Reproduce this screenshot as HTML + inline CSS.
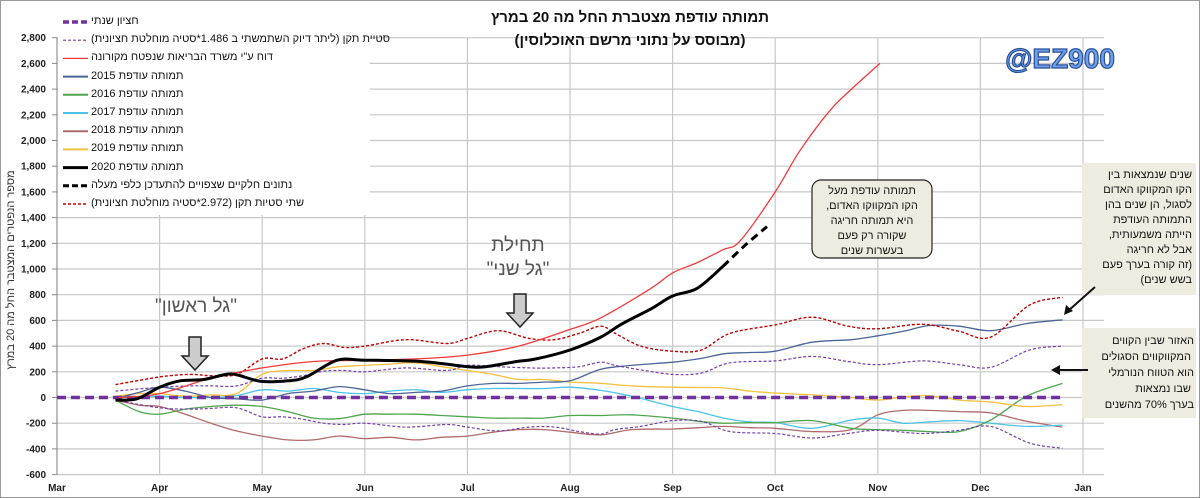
<!DOCTYPE html>
<html><head><meta charset="utf-8"><style>
html,body{margin:0;padding:0;background:#fff}
#wrap{position:relative;width:1200px;height:498px;overflow:hidden}
svg{display:block;position:absolute;left:0;top:0}
text,.t{font-family:"Liberation Sans","Noto Sans CJK SC",sans-serif}
.t{position:absolute;direction:rtl;white-space:nowrap;color:#111}
.box{position:absolute;direction:rtl;font-family:"Liberation Sans","Noto Sans CJK SC",sans-serif;font-size:11px;line-height:15px;color:#111;box-sizing:border-box}
.lg{position:absolute;left:91px;direction:rtl;white-space:nowrap;font-size:11px;font-family:"Liberation Sans","Noto Sans CJK SC",sans-serif;color:#111;line-height:13px}
</style></head><body>
<div id="wrap">
<svg id="chart" width="1200" height="498" viewBox="0 0 1200 498" xmlns="http://www.w3.org/2000/svg">
<rect x="0.5" y="0.5" width="1199" height="497" fill="#fff" stroke="#999"/>
<g id="grid"></g>
<g id="yticks"></g>
<g id="xticks"></g>
<g id="series"></g>
<text x="14" y="270" transform="rotate(-90 14 270)" text-anchor="middle" font-size="11" fill="#333" direction="rtl">מספר הנפטרים המצטבר החל מה 20 במרץ</text>
<text x="630" y="22" text-anchor="middle" font-size="15" font-weight="bold" fill="#111" direction="rtl">תמותה עודפת מצטברת החל מה 20 במרץ</text>
<text x="630" y="45" text-anchor="middle" font-size="15" font-weight="bold" fill="#111" direction="rtl">(מבוסס על נתוני מרשם האוכלוסין)</text>
<text x="1060" y="68" text-anchor="middle" font-size="28" font-weight="bold" fill="#6fa0e8" stroke="#2a4f9a" stroke-width="1.2">@EZ900</text>
<g id="legend">
<rect x="58" y="10" width="312" height="205" fill="#fff"/>
</g>
<path d="M189 337 H201 V356 H208 L195 370 L182 356 H189 Z" fill="#ccc" stroke="#222" stroke-width="1.5"/>
<path d="M514 294 H526 V313 H533 L520 327 L507 313 H514 Z" fill="#ccc" stroke="#222" stroke-width="1.5"/>
<rect x="812" y="180" width="120" height="78" rx="9" fill="#eeece1" stroke="#222" stroke-width="1.2"/>
<rect x="1082" y="163" width="114" height="132" fill="#eeece1"/>
<line x1="1095" y1="287" x2="1068" y2="311" stroke="#111" stroke-width="2"/>
<path d="M1064 315 L1066 305 L1073 311 Z" fill="#111"/>
<rect x="1082" y="328" width="114" height="90" fill="#eeece1"/>
<line x1="1088" y1="370" x2="1058" y2="370" stroke="#111" stroke-width="2"/>
<path d="M1051 370 L1060 365 L1060 375 Z" fill="#111"/>
</svg>
<div class="t" style="left:140px;top:296px;width:112px;text-align:center;font-size:19px;color:#555">"גל ראשון"</div>
<div class="t" style="left:460px;top:234px;width:116px;text-align:center;font-size:19px;color:#555;line-height:24px">תחילת<br>"גל שני"</div>
<div class="box" style="left:812px;top:184px;width:120px;text-align:center">תמותה עודפת מעל<br>הקו המקווקו האדום,<br>היא תמותה חריגה<br>שקורה רק פעם<br>בעשרות שנים</div>
<div class="box" style="left:1082px;top:168px;width:110px;text-align:right">שנים שנמצאות בין<br>הקו המקווקו האדום<br>לסגול, הן שנים בהן<br>התמותה העודפת<br>הייתה משמעותית,<br>אבל לא חריגה<br>(זה קורה בערך פעם<br>בשש שנים)</div>
<div class="box" style="left:1082px;top:333px;width:112px;text-align:right;line-height:16px">האזור שבין הקווים<br>&nbsp;המקווקווים הסגולים<br>הוא הטווח הנורמלי<br>&nbsp;שבו נמצאות<br>בערך 70% מהשנים</div>
<div id="legendText"></div>
</div>
<script>
// ---- data (x = month number, 3 = Mar 1) ----
const yTicks = [2800,2600,2400,2200,2000,1800,1600,1400,1200,1000,800,600,400,200,0,-200,-400,-600];
const yTickLabels = ["2,800","2,600","2,400","2,200","2,000","1,800","1,600","1,400","1,200","1,000","800","600","400","200","0","-200","-400","-600"];
const monthLabels = ["Mar","Apr","May","Jun","Jul","Aug","Sep","Oct","Nov","Dec","Jan"];
const monthPos = [3,4,5,6,7,8,9,10,11,12,13];

const mBlack = [3.57,3.78,4.0,4.2,4.43,4.65,4.76,4.99,5.25,5.43,5.73,5.99,6.55,7.0,7.18,7.48,7.67,8.0,8.3,8.5,8.79,9.0,9.24,9.49];
const vBlack = [-20,-10,80,130,140,180,175,125,130,160,290,290,280,240,240,280,300,370,470,570,690,790,850,1020];
const mBlackDash = [9.49,9.7,9.92];
const vBlackDash = [1020,1180,1330];
const mRed = [3.6,4.0,4.5,5.0,5.5,6.0,6.5,7.0,7.5,8.0,8.3,8.79,9.0,9.24,9.49,9.66,10.0,10.24,10.53,10.73,11.02];
const vRed = [0,30,150,230,280,290,300,330,400,530,620,850,970,1050,1150,1220,1600,1920,2230,2390,2600];
const mStd = [3.57,4.0,4.3,4.5,4.75,5.0,5.2,5.4,5.6,5.8,6.0,6.4,6.8,7.0,7.3,7.6,7.85,8.09,8.3,8.44,8.69,9.0,9.28,9.56,10.0,10.36,10.71,11.0,11.44,11.79,12.1,12.48,12.8];
const vRedDash = [100,160,180,170,180,300,300,380,420,390,400,450,420,460,520,460,450,500,555,500,400,360,370,500,565,625,555,535,570,515,470,720,780];
const vPurpleHi = [50,80,90,90,90,150,150,170,205,210,200,230,210,250,240,230,230,240,275,250,215,180,190,270,285,320,280,255,285,255,235,370,400];
const vPurpleLo = [-20,-80,-90,-85,-80,-150,-150,-170,-200,-210,-200,-230,-210,-230,-260,-230,-230,-265,-285,-250,-225,-180,-185,-265,-280,-315,-280,-255,-280,-255,-225,-355,-395];
const mYear = [3.57,3.8,4.0,4.25,4.5,4.75,5.0,5.25,5.5,5.75,6.0,6.25,6.5,6.75,7.0,7.25,7.5,7.75,8.0,8.3,8.6,9.0,9.25,9.5,9.75,10.0,10.36,10.74,11.0,11.25,11.5,11.79,12.1,12.45,12.8];
const v2015 = [-10,40,80,50,0,-10,-20,30,50,85,60,30,40,50,90,110,110,120,130,220,250,275,300,340,350,360,430,450,480,515,560,555,520,575,605];
const v2016 = [-20,-110,-130,-90,-70,-60,-70,-110,-160,-165,-130,-130,-130,-140,-150,-160,-160,-160,-140,-140,-135,-160,-185,-200,-195,-195,-180,-240,-250,-255,-265,-265,-175,10,110];
const v2017 = [0,5,10,0,0,15,60,50,70,40,30,50,60,40,60,70,70,70,80,55,10,-70,-110,-160,-190,-195,-240,-175,-160,-200,-190,-180,-200,-225,-215];
const v2018 = [-20,-60,-70,-130,-200,-260,-300,-330,-330,-300,-320,-310,-330,-310,-300,-270,-250,-250,-270,-290,-250,-245,-235,-225,-235,-240,-265,-250,-135,-100,-100,-110,-120,-185,-230];
const v2019 = [10,30,30,10,20,30,180,210,210,240,250,260,270,240,210,180,140,140,120,110,90,80,78,75,50,35,20,0,-20,5,15,-20,-35,-70,-55];
const mZero = [3,12.8];
const vZero = [0,0];

// ---- scales ----
function xs(m){ return 57 + (m-3)*102.6; }
function ys(v){ return 397.5 - v*0.1285; }
const NS = "http://www.w3.org/2000/svg";
function mk(tag, parent, attrs){
  const e = document.createElementNS(NS, tag);
  for (const k in attrs) e.setAttribute(k, attrs[k]);
  parent.appendChild(e); return e;
}
function smoothPath(ms, vs){
  const p = ms.map((m,i)=>[xs(m), ys(vs[i])]);
  let d = "M"+p[0][0].toFixed(1)+" "+p[0][1].toFixed(1);
  for (let i=0;i<p.length-1;i++){
    const p0=p[Math.max(0,i-1)], p1=p[i], p2=p[i+1], p3=p[Math.min(p.length-1,i+2)];
    const c1x=p1[0]+(p2[0]-p0[0])/6, c1y=p1[1]+(p2[1]-p0[1])/6;
    const c2x=p2[0]-(p3[0]-p1[0])/6, c2y=p2[1]-(p3[1]-p1[1])/6;
    d += " C"+c1x.toFixed(1)+" "+c1y.toFixed(1)+" "+c2x.toFixed(1)+" "+c2y.toFixed(1)+" "+p2[0].toFixed(1)+" "+p2[1].toFixed(1);
  }
  return d;
}
const grid = document.getElementById('grid');
const yt = document.getElementById('yticks');
const xt = document.getElementById('xticks');
const ser = document.getElementById('series');

yTicks.forEach((v,i)=>{
  const gl = mk('line', grid, {x1:xs(3), x2:1104, y1:ys(v), y2:ys(v), stroke:'#c8c8c8', 'stroke-width':1.2});
  
  
  mk('line', yt, {x1:xs(3)-5, x2:xs(3), y1:ys(v), y2:ys(v), stroke:'#888'});
  const t = mk('text', yt, {x:46, y:ys(v)+3.5, 'text-anchor':'end', 'font-size':10, 'font-weight':'bold', fill:'#222'});
  t.textContent = yTickLabels[i];
  
  
});
monthPos.forEach((m,i)=>{
  const gl = mk('line', grid, {x1:xs(m), x2:xs(m), y1:ys(2800), y2:ys(-600), stroke:'#c8c8c8', 'stroke-width':1.2});
  
  
  const t = mk('text', xt, {x:xs(m), y:491, 'text-anchor':'middle', 'font-size':10, 'font-weight':'bold', fill:'#222'});
  t.textContent = monthLabels[i];
  
  
});
mk('line', grid, {x1:xs(3), x2:xs(3), y1:ys(2800), y2:ys(-600), stroke:'#888'});

const seriesDefs = [
  {name:'line-2018', m:mYear, v:v2018, c:'#b06a6a', w:1.3, dash:''},
  {name:'line-2017', m:mYear, v:v2017, c:'#4bc3e6', w:1.3, dash:''},
  {name:'line-2016', m:mYear, v:v2016, c:'#4ea64e', w:1.3, dash:''},
  {name:'line-2019', m:mYear, v:v2019, c:'#f4c03e', w:1.3, dash:''},
  {name:'line-2015', m:mYear, v:v2015, c:'#4a6597', w:1.3, dash:''},
  {name:'std-lower-line', m:mStd, v:vPurpleLo, c:'#7040a8', w:1.2, dash:'3 2'},
  {name:'std-upper-line', m:mStd, v:vPurpleHi, c:'#7040a8', w:1.2, dash:'3 2'},
  {name:'two-std-line', m:mStd, v:vRedDash, c:'#c00000', w:1.4, dash:'3 2'},
  {name:'annual-baseline', m:mZero, v:vZero, c:'#7030a0', w:3.5, dash:'9 5'},
  {name:'moh-report-line', m:mRed, v:vRed, c:'#f03a3a', w:1.3, dash:''},
  {name:'line-2020', m:mBlack, v:vBlack, c:'#000', w:3, dash:''},
  {name:'line-2020-partial', m:mBlackDash, v:vBlackDash, c:'#000', w:3, dash:'8 5'}
];
seriesDefs.forEach(s=>{
  const p = mk('path', ser, {d:smoothPath(s.m, s.v), fill:'none', stroke:s.c, 'stroke-width':s.w});
  if (s.dash) p.setAttribute('stroke-dasharray', s.dash);
  
  
});

// legend
const legendItems = [
  ['חציון שנתי','#7030a0',3.5,'6 3'],
  ['סטיית תקן (ליתר דיוק השתמשתי ב 1.486*סטיה מוחלטת חציונית)','#7040a8',1.2,'3 2'],
  ['דוח ע"י משרד הבריאות שנפטח מקורונה','#f03a3a',1.3,''],
  ['תמותה עודפת 2015','#4a6597',2,''],
  ['תמותה עודפת 2016','#4ea64e',2,''],
  ['תמותה עודפת 2017','#4bc3e6',2,''],
  ['תמותה עודפת 2018','#b06a6a',2,''],
  ['תמותה עודפת 2019','#f4c03e',2,''],
  ['תמותה עודפת 2020','#000',3,''],
  ['נתונים חלקיים שצפויים להתעדכן כלפי מעלה','#000',3,'6 3'],
  ['שתי סטיות תקן (2.972*סטיה מוחלטת חציונית)','#c00000',1.4,'3 2']
];
const lg = document.getElementById('legend');
const lt = document.getElementById('legendText');
legendItems.forEach((it,i)=>{
  const y = 22 + i*18.2;
  const g = mk('g', lg, {});
  
  
  const l = mk('line', g, {x1:63, x2:88, y1:y, y2:y, stroke:it[1], 'stroke-width':it[2]});
  if (it[3]) l.setAttribute('stroke-dasharray', it[3]);
  const d = document.createElement('div');
  d.className = 'lg';
  d.style.top = (y-7) + 'px';
  d.textContent = it[0];
  
  
  lt.appendChild(d);
});
</script>
</body></html>
